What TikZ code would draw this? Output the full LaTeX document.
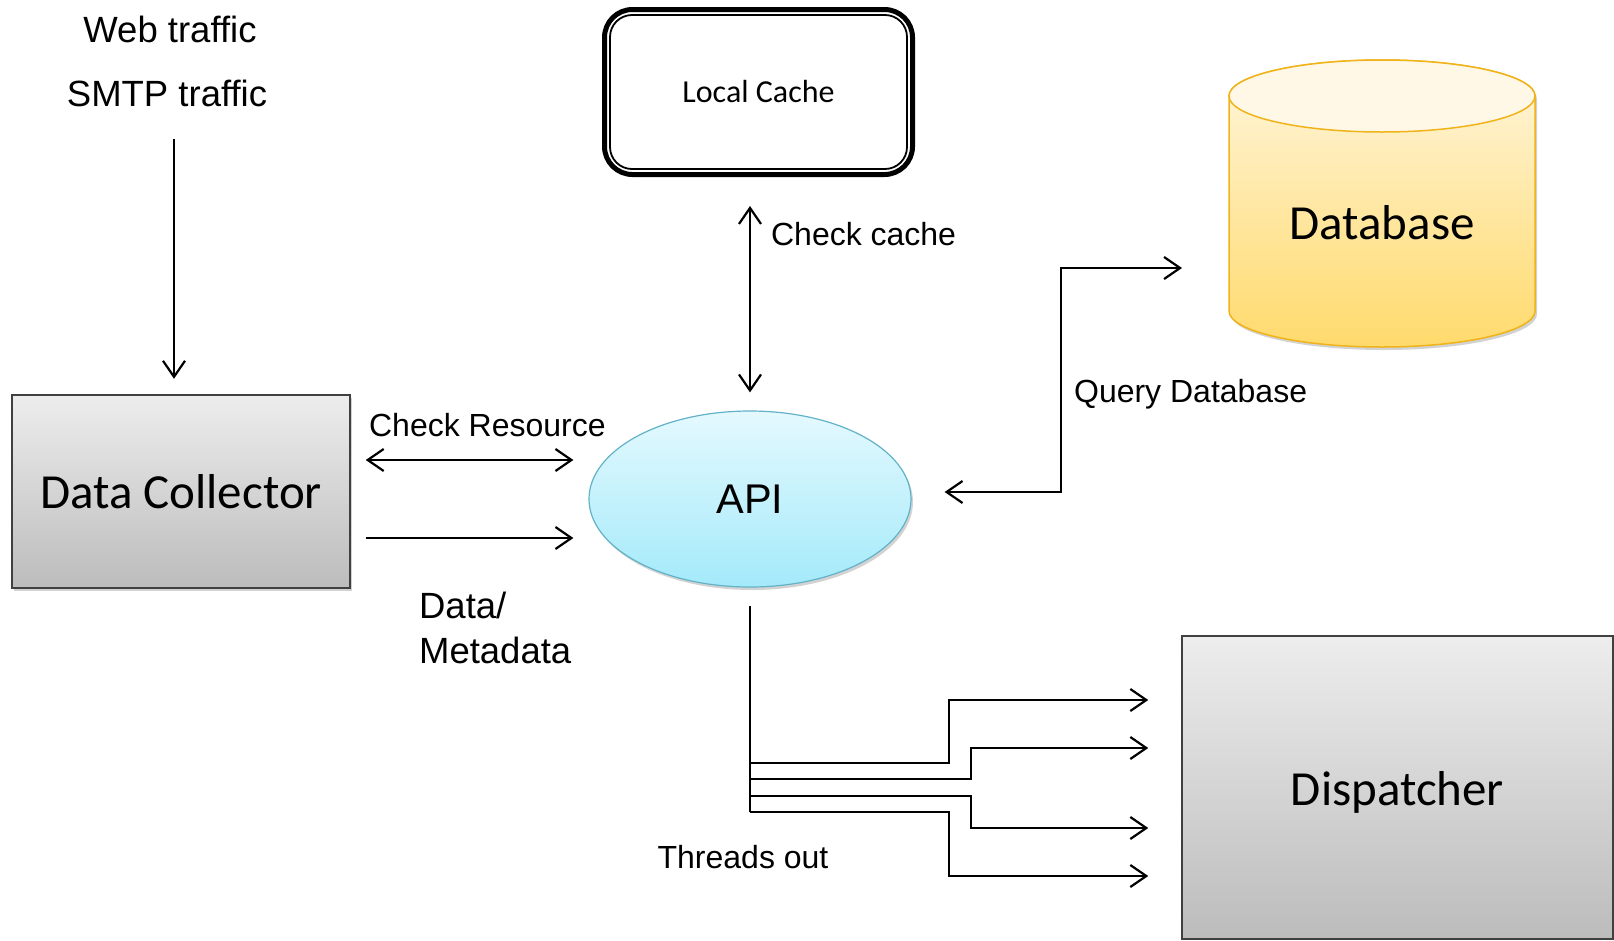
\documentclass[tikz,border=0pt]{standalone}
\usepackage{fontspec}
\setmainfont{Liberation Sans}
\newfontfamily\calibrifont{Carlito}
\usetikzlibrary{positioning}
\usetikzlibrary{shapes.geometric,calc,arrows.meta}
\usetikzlibrary{shadows}
\definecolor{boxtop}{HTML}{EDEDED}
\definecolor{boxbot}{HTML}{BCBCBC}
\definecolor{boxline}{HTML}{404040}
\definecolor{apitop}{HTML}{E4F9FE}
\definecolor{apibot}{HTML}{A4EAFA}
\definecolor{apiline}{HTML}{62B2C8}
\definecolor{dbtop}{HTML}{FFF6DE}
\definecolor{dbbot}{HTML}{FFDA6C}
\definecolor{dbcap}{HTML}{FFF8E7}
\definecolor{dbline}{HTML}{F0B31A}
\tikzset{
  plaintext/.style={font=\fontsize{36.5}{45}\selectfont, inner sep=0pt},
  lbltext/.style={font=\fontsize{32}{38}\selectfont, inner sep=0pt},
  boxtext/.style={font=\calibrifont\fontsize{49}{56}\selectfont},
  graybox/.style={draw=boxline, line width=1.5pt, top color=boxtop, bottom color=boxbot,
    minimum width=#1, inner sep=0pt},
  softshadow/.style={drop shadow={shadow xshift=2pt, shadow yshift=-3pt, opacity=0.25, fill=black!70}}
}

\begin{document}
\begin{tikzpicture}[x=1pt, y=-1pt, line width=2.2pt, >={Straight Barb[length=16pt,width=22pt]}]
		\useasboundingbox (0,0) rectangle (1614,940);
		% sources
		\node[plaintext] (web) at (170,29) {Web traffic};
		\node[plaintext] (smtp) at (167,93) {SMTP traffic};
		\coordinate (trafficin) at (174,139);
		% boxes
		\node[graybox=338pt, minimum height=193pt, softshadow, boxtext] (collector) at (181,491.5) {Data Collector};
		\node[graybox=431pt, minimum height=303pt, boxtext] (dispatch) at (1397.5,787.5) {};
		\node[boxtext] (dispatchtxt) at (1397.5,792) {Dispatcher};
		\node[ellipse, draw=apiline, line width=1.2pt, top color=apitop, bottom color=apibot, softshadow,
			minimum width=322pt, minimum height=176pt, inner sep=0pt, font=\fontsize{41.5}{46}\selectfont] (api) at (750,499) {API};
		\node[draw, line width=5pt, rounded corners=28pt, minimum width=308pt, minimum height=165pt,
			outer sep=0pt, font=\calibrifont\fontsize{32}{38}\selectfont] (cache) at (758.5,92) {Local Cache};
		\draw[line width=1.8pt, rounded corners=22pt] ([shift={(5.5pt,-5.5pt)}]cache.north west) rectangle ([shift={(-5.5pt,5.5pt)}]cache.south east);
		% database cylinder
		\draw[dbline, line width=1.5pt, top color=dbtop, bottom color=dbbot, softshadow]
			(1229,96) -- (1229,311) arc[start angle=180, end angle=0, x radius=153, y radius=36]
			-- (1535,96) arc[start angle=360, end angle=180, x radius=153, y radius=36] -- cycle;
		\draw[dbline, line width=1.5pt, fill=dbcap] (1382,96) ellipse[x radius=153, y radius=36];
		\node[boxtext] (db) at (1382,223) {Database};
		\coordinate (dbin) at (1182,268);
		% connectors
		\draw[->, shorten >=15.5pt] (trafficin) -- (trafficin |- collector.north);
		\draw[<->] ([xshift=15pt,yshift=31.5pt]collector.east) -- ([xshift=-15pt,yshift=39pt]api.west);
		\draw[->] ([xshift=15pt,yshift=-46.5pt]collector.east) -- ([xshift=-15pt,yshift=-39pt]api.west);
		\draw[<->, shorten <=31.5pt, shorten >=18pt] (api.north |- cache.south) -- (api.north);
		\draw[<->] ([xshift=33pt,yshift=7pt]api.east) -| (1061,268) -- (dbin);
		\coordinate (trunk) at ([yshift=-18pt]api.south);
		\draw (trunk) -- (trunk |- 0,812);
		\foreach \by/\jx/\ty in {763/949/700, 779/971/748, 796/971/828, 812/949/876}{
			\draw[->, shorten >=33pt] (trunk |- 0,\by) -| (\jx,\ty) -- (dispatch.west |- 0,\ty);
		}
		% labels
		\node[lbltext, anchor=west] (chkres) at (368,425) {Check Resource};
		\node[plaintext, anchor=west, align=left] (meta) at (418,627.5) {Data/\\Metadata};
		\node[lbltext, anchor=west] (chkcache) at (770,234) {Check cache};
		\node[lbltext, anchor=west] (query) at (1073,394) {Query Database};
		\node[lbltext] (threads) at (743,857) {Threads out};
\end{tikzpicture}
\end{document}
